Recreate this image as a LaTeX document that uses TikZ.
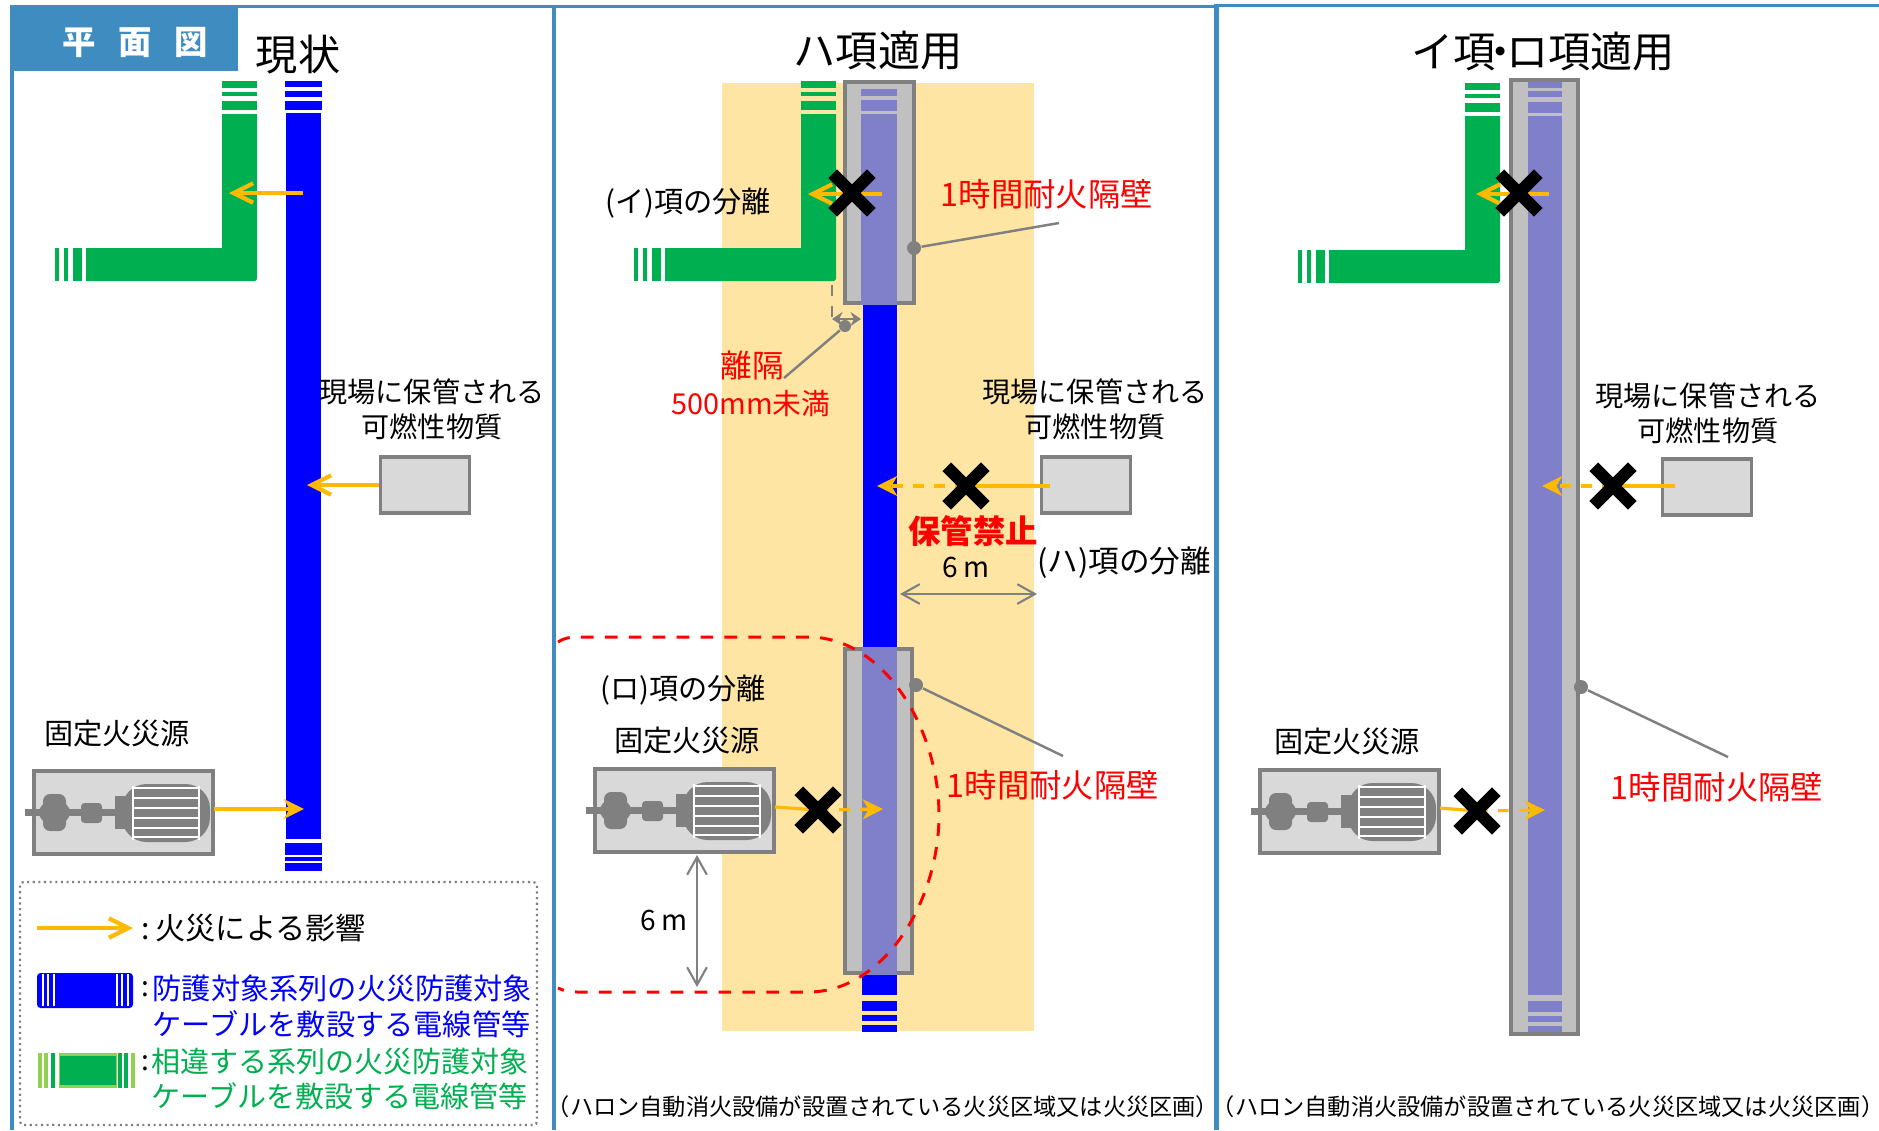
\documentclass[tikz,border=0pt]{standalone}
\usepackage{fontspec}
\setmainfont{Noto Sans CJK JP}
\usetikzlibrary{arrows.meta,shapes.misc}
\definecolor{framecol}{HTML}{3F8DC0}
\definecolor{cablegreen}{HTML}{00B050}
\definecolor{limegreen}{HTML}{92D050}
\definecolor{cableblue}{HTML}{0000FF}
\definecolor{firecol}{HTML}{FFB900}
\definecolor{zonecol}{HTML}{FFE5A3}
\definecolor{wallfill}{HTML}{C0C0C0}
\definecolor{walldark}{HTML}{808080}
\definecolor{wallblue}{HTML}{7F7FCA}
\definecolor{boxfill}{HTML}{D9D9D9}
\tikzset{
  txt/.style={inner sep=0pt, font=\fontsize{8}{10}\selectfont},
  txtsrc/.style={inner sep=0pt, font=\fontsize{8.3}{10}\selectfont},
  txtbig/.style={inner sep=0pt, font=\fontsize{12}{14}\selectfont},
  txtred/.style={inner sep=0pt, text=red, font=\fontsize{9.2}{11}\selectfont},
  txtnote/.style={inner sep=0pt, font=\fontsize{6.6}{8}\selectfont},
  firearrow/.style={firecol, line width=0.9pt, -{Straight Barb[length=5.5pt,width=5.5pt,line width=1.2pt]}},
  firetip/.style={firecol, line width=0.9pt, -{Stealth[length=5.7pt,width=5.6pt,inset=1.6pt]}},
  leader/.style={walldark, line width=0.7pt},
  leaderdot/.style={circle, fill=walldark, inner sep=0pt, minimum size=0.14cm},
  crossmark/.style={cross out, draw=black, line width=3.5pt, inner sep=0pt, outer sep=0pt, minimum width=0.385cm, minimum height=0.385cm},
  combox/.style={draw=walldark, fill=boxfill, line width=1pt, inner sep=0pt, minimum width=0.89cm, minimum height=0.56cm},
  wallline/.style={walldark, line width=1pt},
  gap/.style={walldark, line width=0.6pt, {Straight Barb[length=5pt,width=5.6pt]}-{Straight Barb[length=5pt,width=5.6pt]}},
}
\begin{document}
\begin{tikzpicture}[x=0.01cm, y=-0.01cm]
  \useasboundingbox (0,0) rectangle (1879,1130);

  % zone of the middle panel
  \fill[zonecol] (722,83) rectangle (1034,1031);

  % frames
  \fill[framecol] (10,5) rectangle (1216,8);
  \fill[framecol] (1216,4) rectangle (1879,7);
  \fill[framecol] (10,5) rectangle (13.5,1130);
  \fill[framecol] (552,5) rectangle (556,1130);
  \fill[framecol] (1214,4) rectangle (1219,1130);
  \fill[framecol] (10,5) rectangle (238,71);
  \node[txt, text=white, font=\fontsize{9.5}{10}\bfseries] (tab) at (135,42) {平\hspace{6.4pt}面\hspace{6.4pt}図};

  % titles
  \node[txtbig] (titlea) at (298,55) {現状};
  \node[txtbig] (titleb) at (878,51) {ハ項適用};
  \node[txtbig] (titlec) at (1543,52) {イ項\kern-4.5pt・\kern-4.5pt ロ項適用};

  % green cable
  \foreach \gx/\gy in {0/0, 579/0, 1243/2} {
    \begin{scope}[shift={(\gx,\gy)}]
      \fill[cablegreen] (222,114) -- (222,248) -- (86,248) -- (86,281) -- (255,281) -- (257,279) -- (257,114) -- cycle;
      \fill[cablegreen] (222,81) rectangle (257,88);
      \fill[cablegreen] (222,92) rectangle (257,96);
      \fill[cablegreen] (222,101) rectangle (257,110);
      \fill[cablegreen] (55,248) rectangle (59,281);
      \fill[cablegreen] (64,248) rectangle (68,281);
      \fill[cablegreen] (73,248) rectangle (82,281);
    \end{scope}
  }

  % blue cable, left panel
  \fill[cableblue] (286,113) rectangle (321,839);
  \foreach \ya/\yb in {81/87, 91/97, 101/110, 843/855, 857/861, 863/871} {
    \fill[cableblue] (285,\ya) rectangle (322,\yb);
  }

  % blue cable and walls, middle panel
  \fill[cableblue] (863,305) rectangle (897,647);
  \fill[wallfill] (843,80) rectangle (916,305);
  \fill[wallblue] (861,114) rectangle (897,305);
  \fill[wallblue] (861,89) rectangle (897,96);
  \fill[wallblue] (861,100) rectangle (897,111);
  \draw[wallline] (861,303) -- (845,303) -- (845,82) -- (914,82) -- (914,303) -- (897,303);
  \fill[wallfill] (843,647) rectangle (914,975);
  \fill[wallblue] (862,647) rectangle (897,975);
  \draw[wallline] (862,649) -- (845,649) -- (845,973) -- (862,973);
  \draw[wallline] (897,649) -- (912,649) -- (912,973) -- (897,973);
  \foreach \ya/\yb in {975/995, 1001/1011, 1015/1021, 1025/1032} {
    \fill[cableblue] (862,\ya) rectangle (897,\yb);
  }

  % wall, right panel
  \fill[wallfill] (1509,78) rectangle (1580,1036);
  \fill[wallblue] (1528,116) rectangle (1562,995);
  \foreach \ya/\yb in {82/88, 91/97, 102/113, 1001/1012, 1016/1022, 1026/1033} {
    \fill[wallblue] (1528,\ya) rectangle (1562,\yb);
  }
  \draw[wallline] (1511,80) rectangle (1578,1034);

  % machines
  \foreach \mx/\my/\mname in {0/0/mcha, 561/-2/mchb, 1226/-1/mchc} {
    \begin{scope}[shift={(\mx,\my)}]
      \draw[wallline, fill=boxfill] (34,771) rectangle (213,854);
      \coordinate (\mname) at (214,809);
      \fill[walldark] (25,809) rectangle (122,816);
      \fill[walldark, rounded corners=2] (43,794) rectangle (66,831);
      \fill[walldark, rounded corners=3] (39,802) rectangle (70,823);
      \fill[walldark, rounded corners=1] (81,803) rectangle (102,823);
      \fill[walldark] (115,796) rectangle (125,829);
      \fill[walldark, rounded corners=7] (122,784) rectangle (210,842);
      \draw[white, line width=0.5pt] (133,786) -- (133,840);
      \draw[white, line width=0.5pt] (199,786) -- (199,840);
      \foreach \yr in {788,798,808,818,828,837} {
        \draw[white, line width=0.5pt] (133,\yr) -- (199,\yr);
      }
    \end{scope}
  }

  % left panel
  \coordinate (starta) at (303,193);
  \coordinate (hita) at (229,193);
  \draw[firearrow] (starta) -- (hita);
  \node[combox] (boxa) at (425,485) {};
  \coordinate (hitb) at (307,485);
  \draw[firearrow] (boxa.west) -- (hitb);
  \node[txt, align=center] (stocka) at (432,409) {現場に保管される\\可燃性物質};
  \coordinate (hitc) at (304,809);
  \draw[firetip] (mcha) -- (hitc);
  \node[txtsrc] (srca) at (117,733) {固定火災源};

  % middle panel
  \coordinate (crossa) at (852,193);
  \coordinate (startb) at (882,194);
  \coordinate (hitd) at (808,194);
  \draw[firearrow] (startb) -- (hitd);
  \node[crossmark] (marka) at (crossa) {};
  \node[txt, font=\fontsize{8.3}{10}\selectfont] (sepi) at (688,203) {(イ)項の分離};
  \node[txtred] (walla) at (1047,194) {1時間耐火隔壁};
  \node[leaderdot] (dota) at (914,248) {};
  \coordinate (enda) at (1059,223);
  \draw[leader] (dota) -- (enda);
  \coordinate (gapa) at (832,285);
  \coordinate (gapb) at (832,319);
  \coordinate (gapc) at (861,319);
  \draw[gray, dashed, line width=0.5pt] (gapa) -- (gapb);
  \draw[walldark, line width=0.6pt, {Stealth[length=3pt,width=4pt]}-{Stealth[length=3pt,width=4pt]}] (gapb) -- (gapc);
  \node[leaderdot, minimum size=0.12cm] (dotb) at (845,326) {};
  \coordinate (endb) at (784,378);
  \draw[leader] (dotb) -- (endb);
  \node[txtred, font=\fontsize{9}{11}\selectfont] (dista) at (752,365) {離隔};
  \node[txtred, font=\fontsize{8.2}{11}\selectfont] (distb) at (751,404) {500mm未満};
  \node[combox] (boxb) at (1086,485) {};
  \coordinate (crossb) at (966,486);
  \coordinate (startd) at (1050,486);
  \coordinate (hite) at (877,486);
  \draw[firecol, line width=0.9pt] (startd) -- (crossb);
  \draw[firetip, dashed] (crossb) -- (hite);
  \node[crossmark] (markb) at (crossb) {};
  \node[txt, align=center] (stockb) at (1095,409) {現場に保管される\\可燃性物質};
  \node[txtred, font=\fontsize{9.2}{11}\bfseries] (ban) at (973,531) {保管禁止};
  \node[txt] (distc) at (966,567) {6\,m};
  \node[txt, font=\fontsize{8.7}{10}\selectfont] (sepc) at (1124,563) {(ハ)項の分離};
  \coordinate (sixa) at (900,594);
  \coordinate (sixb) at (1037,594);
  \draw[gap] (sixa) -- (sixb);
  \node[txt, font=\fontsize{8.3}{10}\selectfont] (sepr) at (683,690) {(ロ)項の分離};
  \node[txtsrc] (srcb) at (687,740) {固定火災源};
  \coordinate (crossc) at (818,810);
  \coordinate (hitf) at (883,809);
  \draw[firecol, line width=0.9pt] (mchb) -- (crossc);
  \draw[firetip, dashed] (crossc) -- (hitf);
  \node[crossmark] (markc) at (crossc) {};
  \node[txtred] (wallb) at (1053,785) {1時間耐火隔壁};
  \node[leaderdot] (dotc) at (916,685) {};
  \coordinate (endc) at (1063,756);
  \draw[leader] (dotc) -- (endc);
  \coordinate (sixc) at (697,855);
  \coordinate (sixd) at (697,987);
  \draw[gap] (sixc) -- (sixd);
  \node[txt] (distd) at (664,920) {6\,m};
  \draw[red, line width=0.85pt, dash pattern=on 3.6pt off 3.2pt] (558,642) .. controls (564,638) and (570,637) .. (578,637) -- (808,637) .. controls (885,637) and (939,730) .. (939,815) .. controls (939,900) and (885,992) .. (808,992) -- (578,992) .. controls (570,992) and (564,991) .. (558,988);
  \node[txtnote] (notea) at (883,1107) {（ハロン自動消火設備が設置されている火災区域又は火災区画）};

  % right panel
  \coordinate (crossd) at (1519,193);
  \coordinate (startc) at (1549,194);
  \coordinate (hitg) at (1476,194);
  \draw[firearrow] (startc) -- (hitg);
  \node[crossmark] (markd) at (crossd) {};
  \node[combox] (boxc) at (1707,487) {};
  \coordinate (crosse) at (1613,486);
  \coordinate (starte) at (1675,486);
  \coordinate (hith) at (1542,486);
  \draw[firecol, line width=0.9pt] (starte) -- (crosse);
  \draw[firetip, dashed] (crosse) -- (hith);
  \node[crossmark] (marke) at (crosse) {};
  \node[txt, align=center] (stockc) at (1708,413) {現場に保管される\\可燃性物質};
  \node[txtsrc] (srcc) at (1347,741) {固定火災源};
  \coordinate (crossf) at (1477,811);
  \coordinate (hiti) at (1545,810);
  \draw[firecol, line width=0.9pt] (mchc) -- (crossf);
  \draw[firetip, dashed] (crossf) -- (hiti);
  \node[crossmark] (markf) at (crossf) {};
  \node[leaderdot] (dotd) at (1581,687) {};
  \coordinate (endd) at (1728,757);
  \draw[leader] (dotd) -- (endd);
  \node[txtred] (wallc) at (1717,787) {1時間耐火隔壁};
  \node[txtnote] (noteb) at (1548,1107) {（ハロン自動消火設備が設置されている火災区域又は火災区画）};

  % legend
  \draw[gray, densely dotted, line width=0.6pt, rounded corners=1] (20,882) rectangle (537,1125);
  \coordinate (keya) at (37,928);
  \coordinate (keyb) at (133,928);
  \draw[firearrow, line width=1.1pt] (keya) -- (keyb);
  \node[txt, anchor=west, font=\fontsize{8.6}{10}\selectfont] (keytxta) at (141,928) {:\hspace{1.5pt}火災による影響};
  \fill[cableblue, rounded corners=1] (37,973) rectangle (133,1008);
  \foreach \xw in {43,48,54,117,122,128} {
    \draw[white, line width=0.7pt] (\xw,974) -- (\xw,1006);
  }
  \node[txt, anchor=west] (keycolona) at (141,989) {:};
  \node[txt, anchor=west, text=cableblue, align=left, font=\fontsize{8.3}{10.2}\selectfont] (keytxtb) at (152,1006) {防護対象系列の火災防護対象\\ケーブルを敷設する電線管等};
  \fill[limegreen] (59,1053) rectangle (117,1088);
  \fill[cablegreen] (60,1056) rectangle (116,1085);
  \foreach \xw/\wc in {40/limegreen,46/limegreen,53/cablegreen,120/cablegreen,126/cablegreen,133/limegreen} {
    \draw[\wc, line width=0.9pt] (\xw,1053) -- (\xw,1088);
  }
  \node[txt, anchor=west] (keycolonb) at (141,1063) {:};
  \node[txt, anchor=west, text=cablegreen, align=left, font=\fontsize{8.25}{10.2}\selectfont] (keytxtc) at (151,1079) {相違する系列の火災防護対象\\ケーブルを敷設する電線管等};
\end{tikzpicture}
\end{document}
